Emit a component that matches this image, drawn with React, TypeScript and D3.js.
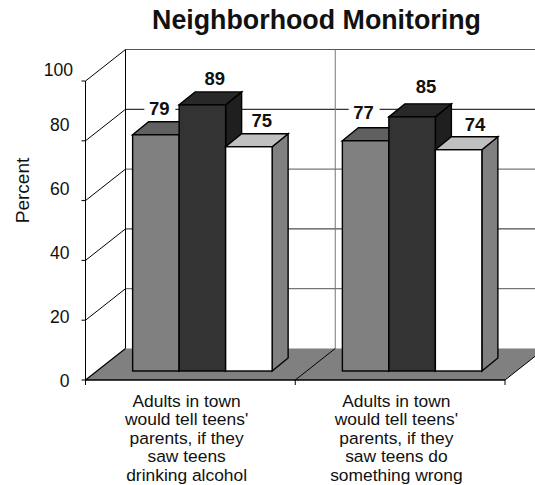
import React from "react";
import * as d3 from "d3";

const categories = [
  ["Adults in town", "would tell teens'", "parents, if they", "saw teens", "drinking alcohol"],
  ["Adults in town", "would tell teens'", "parents, if they", "saw teens do", "something wrong"],
];
const seriesA = [79, 77];
const seriesB = [89, 85];
const seriesC = [75, 74];
const yTicks = [0, 20, 40, 60, 80, 100];
const seriesFill = [
  { front: "#808080", top: "#606060", side: "#404040" },
  { front: "#333333", top: "#282828", side: "#1f1f1f" },
  { front: "#ffffff", top: "#c0c0c0", side: "#808080" },
];

const W = 535, H = 485;
const FRONT_L = 85.5, FRONT_R = 505;
const Y0 = 380, Y100 = 81;
const DX = 40, DY = -31.5; // wall depth
const BAR_DX = 16, BAR_DY = -13; // bar depth
const PLANE_DX = 12, PLANE_DY = -9; // bar plane offset from front edge

const y = d3.scaleLinear().domain([0, 100]).range([Y0, Y100]);
const x0 = d3.scaleBand<number>().domain([0, 1]).range([FRONT_L, FRONT_R]);
const GROUP_INNER = 139.5;
const x1 = d3.scaleBand<number>().domain([0, 1, 2]).range([0, GROUP_INNER]);

const labelNudge = [
  [[3.5, -20], [12.5, -20], [13, -20]],
  [[-2, -22], [14, -24], [16.5, -19]],
];
const tickBaseNudge = [7, 3, -1, -6, -10, -5];

const pts = (a: number[][]) => a.map((p) => p.join(",")).join(" ");

function Bar({ gi, si, v }: { gi: number; si: number; v: number }) {
  const gx = x0(gi)! + (x0.bandwidth() - GROUP_INNER) / 2 + PLANE_DX;
  const xa = gx + x1(si)!;
  const xb = xa + x1.bandwidth();
  const yt = y(v) + PLANE_DY;
  const yb = y(0) + PLANE_DY;
  const c = seriesFill[si];
  const st = { stroke: "#000", strokeWidth: 1.4, strokeLinejoin: "miter" as const };
  return (
    <g>
      <polygon points={pts([[xb, yt], [xb + BAR_DX, yt + BAR_DY], [xb + BAR_DX, yb + BAR_DY], [xb, yb]])} fill={c.side} {...st} />
      <polygon points={pts([[xa, yt], [xa + BAR_DX, yt + BAR_DY], [xb + BAR_DX, yt + BAR_DY], [xb, yt]])} fill={c.top} {...st} />
      <rect x={xa} y={yt} width={xb - xa} height={yb - yt} fill={c.front} {...st} />
    </g>
  );
}

export default function App() {
  const all = [seriesA, seriesB, seriesC];
  const font = "'Liberation Sans', Arial, sans-serif";
  const midX = x0(1)!;
  return (
    <svg width={W} height={H} viewBox={`0 0 ${W} ${H}`} style={{ position: "absolute", left: 0, top: 0, background: "#fff" }} fontFamily={font}>
      <text x={316.5} y={29} textAnchor="middle" fontSize={26.8} fontWeight="bold" fill="#111">Neighborhood Monitoring</text>

      {/* back wall */}
      {yTicks.slice(1).map((t, i) => (
        <line key={t} x1={FRONT_L + DX} x2={W} y1={y(t) + DY} y2={y(t) + DY} stroke={i % 2 === 0 ? "#555" : i === 3 ? "#000" : "#222"} strokeWidth={1} />
      ))}
      <line x1={FRONT_L + DX} x2={FRONT_L + DX} y1={y(100) + DY} y2={y(0) + DY} stroke="#000" />
      <line x1={midX + DX} x2={midX + DX} y1={y(100) + DY} y2={y(0) + DY} stroke="#777" strokeWidth={1} />

      {/* floor */}
      <polygon points={pts([[FRONT_L, Y0], [FRONT_L + DX, Y0 + DY], [FRONT_R + DX, Y0 + DY], [FRONT_R, Y0]])} fill="#808080" />
      <line x1={FRONT_L} x2={FRONT_R} y1={Y0} y2={Y0} stroke="#000" strokeWidth={1.5} />
      <line x1={FRONT_L} x2={FRONT_L + DX} y1={Y0} y2={Y0 + DY} stroke="#000" strokeWidth={1.2} />
      <line x1={midX} x2={midX + DX} y1={Y0} y2={Y0 + DY} stroke="#000" strokeWidth={1} />
      <line x1={FRONT_R} x2={FRONT_R + DX} y1={Y0} y2={Y0 + DY} stroke="#000" strokeWidth={1} />

      {/* left wall */}
      {yTicks.slice(1).map((t) => (
        <line key={t} x1={FRONT_L} x2={FRONT_L + DX} y1={y(t)} y2={y(t) + DY} stroke="#000" strokeWidth={1} />
      ))}
      <line x1={FRONT_L} x2={FRONT_L} y1={Y100} y2={Y0} stroke="#000" strokeWidth={1} />

      {/* ticks */}
      {yTicks.map((t, i) => (
        <g key={t}>
          <line x1={FRONT_L - 4} x2={FRONT_L} y1={y(t)} y2={y(t)} stroke="#000" />
          <text x={t === 100 ? 73 : 69.5} y={y(t) + tickBaseNudge[i]} textAnchor="end" fontSize={17.6} fill="#111">{t}</text>
        </g>
      ))}
      {[FRONT_L, midX, FRONT_R].map((xv) => (
        <line key={xv} x1={xv} x2={xv} y1={Y0} y2={Y0 + 5} stroke="#000" />
      ))}

      <text transform="translate(28.5,190.5) rotate(-90)" textAnchor="middle" fontSize={19} fill="#111">Percent</text>

      {/* bars */}
      {categories.map((_, gi) =>
        all.map((s, si) => <Bar key={`${gi}-${si}`} gi={gi} si={si} v={s[gi]} />)
      )}

      {/* value labels */}
      {categories.map((_, gi) =>
        all.map((s, si) => {
          const gx = x0(gi)! + (x0.bandwidth() - GROUP_INNER) / 2 + PLANE_DX;
          const cx = gx + x1(si)! + x1.bandwidth() / 2 + labelNudge[gi][si][0];
          const yy = y(s[gi]) + PLANE_DY + labelNudge[gi][si][1];
          return (
            <g key={`${gi}-${si}`}>
              {si === 0 && <rect x={cx - 15} y={yy - 15} width={31} height={18} fill="#fff" />}
              <text x={cx} y={yy} textAnchor="middle" fontSize={18.5} fontWeight="bold" fill="#111">{s[gi]}</text>
            </g>
          );
        })
      )}

      {/* category labels */}
      {categories.map((lines, gi) => (
        <text key={gi} textAnchor="middle" fontSize={17.4} fill="#111">
          {lines.map((l, i) => (
            <tspan key={i} x={x0(gi)! + x0.bandwidth() / 2 - 3.75} y={406.5 + i * 18.6}>{l}</tspan>
          ))}
        </text>
      ))}
    </svg>
  );
}
